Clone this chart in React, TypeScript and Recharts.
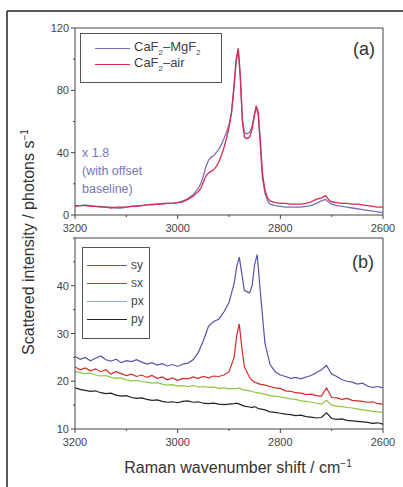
import React from 'react';
import { LineChart, Line, XAxis, YAxis, ReferenceLine, Legend } from 'recharts';

// panel (a)
const waveA = [
  3200, 3190, 3180, 3170, 3160, 3150, 3140, 3130, 3120, 3110, 3100, 3090, 3080, 3070, 3060, 3050, 3040, 3030, 3020, 3010, 3000, 2990, 2980, 2970,
  2965, 2960, 2955, 2950, 2945, 2940, 2935, 2930, 2925, 2920, 2915, 2910, 2905, 2900, 2895,
  2890, 2886, 2882, 2878, 2874, 2870, 2865, 2860, 2855, 2851, 2847, 2843, 2839, 2835, 2830, 2825, 2820,
  2810, 2800, 2790, 2780, 2770, 2760, 2750, 2740, 2730,
  2720, 2712, 2705, 2700,
  2690, 2680, 2670, 2660, 2650, 2640, 2630, 2620, 2610, 2600,
];
const caMgF2 = [
  6, 6, 6.5, 6, 5.5, 5.5, 5, 5, 4.5, 4.5, 5, 5.5, 6, 6, 6.5, 7, 7, 7.5, 7.5, 7.5, 8, 9, 10.5, 13,
  15, 17, 20, 25, 31, 35, 37, 38, 40, 42, 45, 49, 53, 58, 66,
  82, 98, 106, 88, 62, 53, 52, 53, 57, 64, 69, 64, 45, 24, 14, 9, 7,
  6, 5.5, 5, 5, 5, 5, 5.5, 6, 7.5,
  9, 10, 8, 7,
  6, 5.5, 5, 4.5, 4, 3.5, 3, 2.5, 2, 1.5,
];
const caAir = [
  5.5, 6, 6, 5.5, 5.5, 5, 5, 4.5, 5, 5, 5, 5.5, 5.5, 6, 6.5, 6.5, 7, 7, 7.5, 7.5, 8, 8.5, 10, 12,
  13.5, 15, 17, 21, 25, 27, 28, 29, 31, 34, 38, 43, 49, 56, 66,
  84, 100, 107, 90, 60, 50, 49, 50, 55, 63, 70, 66, 48, 27, 16, 11, 9,
  8, 7.5, 7.5, 7, 7, 7, 7.5, 8.5, 10,
  11, 12.5, 9.5, 8.5,
  8, 7.5, 7.5, 7, 7, 6.5, 6, 5.5, 5, 5,
];

// panel (b)
const waveB = [
  3200, 3190, 3180, 3170, 3160, 3150, 3140, 3130, 3120, 3110, 3100, 3090, 3080, 3070, 3060, 3050, 3040, 3030, 3020, 3010, 3000,
  2990, 2980, 2970, 2960, 2950, 2940, 2930, 2920, 2910, 2900,
  2890, 2885, 2880, 2875, 2870,
  2860, 2855, 2850, 2845, 2840,
  2830, 2820, 2810, 2800, 2790, 2780, 2770, 2760, 2750, 2740, 2730, 2720, 2710, 2700, 2690, 2680, 2670, 2660, 2650, 2640, 2630, 2620, 2610, 2600,
];
const sy = [
  25.2, 24.6, 25.0, 24.3, 24.8, 25.3, 24.5, 24.2, 24.6, 23.9, 24.3, 24.1, 24.5, 24.0, 23.6, 23.9, 23.4, 23.7, 23.2, 23.5, 23.1,
  23.6, 23.8, 24.5, 26.0, 28.5, 31.5, 32.5, 33.0, 34.5, 36.5,
  40.5, 44.0, 46.0, 42.5, 39.0,
  38.5, 40.0, 44.5, 46.5, 40.0,
  28.0, 23.5, 22.0, 21.3, 21.0, 20.6, 20.8, 20.5, 20.9, 21.2, 21.8, 22.4, 23.3, 21.5, 21.0, 20.3, 20.0, 19.8, 19.4, 19.6, 19.0, 18.7, 18.9, 18.6,
];
const sx = [
  23.0, 22.4, 22.8, 22.2, 22.6, 22.0, 22.4, 21.5, 22.0, 21.6, 21.2, 21.5, 21.0, 21.3, 20.8, 21.2, 20.6, 20.9, 20.3, 20.7, 20.2,
  20.6, 20.5, 20.9, 20.6, 21.0, 20.7, 21.1, 21.0, 21.3, 22.0,
  25.0, 29.5, 32.0, 27.0, 23.0,
  20.8, 20.2, 19.8, 19.6, 19.4,
  19.2, 18.9, 18.6, 18.5, 18.0, 17.9, 17.6, 17.5, 17.2, 17.3, 17.0, 16.9, 18.6, 16.6, 16.5, 16.2, 16.4, 16.0, 15.9, 15.8, 15.6, 15.7, 15.3, 15.2,
];
const px = [
  22.0, 21.8, 21.6, 21.7, 21.3, 21.1, 21.2, 20.8, 20.6, 20.7, 20.3, 20.1, 20.2, 19.9, 19.8, 19.6, 19.7, 19.4, 19.2, 19.3, 19.0,
  19.1, 18.9, 19.1, 18.8, 18.9, 18.7, 18.8, 18.5, 18.6, 18.4,
  18.5, 18.4, 18.6, 18.3, 18.2,
  18.0, 17.9, 17.7, 17.6, 17.5,
  17.3, 17.0, 16.9, 16.7, 16.5, 16.3, 16.2, 15.9, 15.8, 15.6, 15.4, 15.2, 16.0, 15.0, 14.8, 14.7, 14.5, 14.4, 14.2, 14.0, 13.9, 13.7, 13.6, 13.5,
];
const py = [
  18.6, 18.3, 18.1, 17.9, 18.0, 17.6, 17.4, 17.5, 17.1, 16.9, 17.0, 16.6, 16.4, 16.5, 16.2, 16.0, 16.1, 15.8, 15.6, 15.7, 15.5,
  15.8, 15.9, 15.6, 15.7, 15.4, 15.3, 15.4, 15.2, 15.1, 15.2,
  15.3, 15.4, 15.2, 15.0, 14.8,
  14.6, 14.5, 14.7, 14.4, 14.2,
  14.0, 13.6, 13.5, 13.3, 13.1, 13.0, 12.8, 12.9, 12.6, 12.5, 12.3, 12.4, 13.4, 12.2, 12.0, 12.1, 11.8, 11.7, 11.6, 11.5, 11.4, 11.2, 11.3, 11.0,
];

const seriesA = ['CaF2–MgF2', 'CaF2–air'];
const seriesB = ['sy', 'sx', 'px', 'py'];

const xTicks = [3200, 3100, 3000, 2900, 2800, 2700, 2600];
const xLabels = [3200, 3000, 2800, 2600];
const yTicksA = [0, 20, 40, 60, 80, 100, 120];
const yLabelsA = [0, 40, 80, 120];
const yTicksB = [10, 15, 20, 25, 30, 35, 40, 45, 50];
const yLabelsB = [10, 20, 30, 40];

const dataA = waveA.map((w, i) => ({ w, mg: caMgF2[i], air: caAir[i] }));
const dataB = waveB.map((w, i) => ({ w, sy: sy[i], sx: sx[i], px: px[i], py: py[i] }));

const FONT = '"Liberation Sans", Arial, sans-serif';
const AXIS = '#444';

const XTick = ({ x, y, payload }: any) => {
  const major = xLabels.includes(payload.value);
  return (
    <g>
      <line x1={x} x2={x} y1={y} y2={y + (major ? 4 : 2)} stroke={AXIS} />
      {major && (
        <text x={x} y={y + 17} textAnchor="middle" fontSize={11} fill="#444" fontFamily={FONT}>
          {payload.value}
        </text>
      )}
    </g>
  );
};

const makeYTick = (labels: number[]) => ({ x, y, payload }: any) => {
  const major = labels.includes(payload.value);
  return (
    <g>
      <line x1={x} x2={x - (major ? 4 : 2)} y1={y} y2={y} stroke={AXIS} />
      {major && (
        <text x={x - 6} y={y + 4} textAnchor="end" fontSize={11} fill="#444" fontFamily={FONT}>
          {payload.value}
        </text>
      )}
    </g>
  );
};

// CaF2 -> CaF<sub>2</sub>
const withSub = (s: string) =>
  s.split(/(\d)/).map((part, i) =>
    /\d/.test(part) ? <sub key={i} style={{ fontSize: '0.6em' }}>{part}</sub> : <span key={i}>{part}</span>
  );

const BoxLegend = ({ payload, order, pad, lineW, rowH, fontSize }: any) => {
  const items = [...(payload || [])].sort((a: any, b: any) => order.indexOf(a.value) - order.indexOf(b.value));
  return (
    <div
      style={{
        border: '1px solid #555',
        background: '#fff',
        padding: pad,
        fontFamily: FONT,
        fontSize,
        color: '#444',
        lineHeight: 1,
      }}
    >
      {items.map((p: any) => (
        <div key={p.value} style={{ display: 'flex', alignItems: 'center', height: rowH, whiteSpace: 'nowrap' }}>
          <span style={{ display: 'inline-block', width: lineW, borderTop: `1.5px solid ${p.color}`, marginRight: 4 }} />
          <span>{withSub(p.value)}</span>
        </div>
      ))}
    </div>
  );
};

export default function App() {
  return (
    <div style={{ position: 'absolute', left: 0, top: 0, width: 403, height: 487, background: '#fff', fontFamily: FONT }}>
      <div style={{ position: 'absolute', left: 0, top: 0 }}>
        <LineChart width={403} height={240} data={dataA} margin={{ top: 28, right: 20, left: 15, bottom: 0 }}>
          <XAxis
            dataKey="w"
            type="number"
            domain={[2600, 3200]}
            reversed
            ticks={xTicks}
            interval={0}
            height={25}
            tickSize={0}
            tickMargin={0}
            tickLine={false}
            stroke={AXIS}
            tick={XTick}
            allowDataOverflow
          />
          <YAxis
            type="number"
            domain={[0, 120]}
            ticks={yTicksA}
            interval={0}
            width={60}
            tickSize={0}
            tickMargin={0}
            tickLine={false}
            stroke={AXIS}
            tick={makeYTick(yLabelsA)}
            allowDataOverflow
          />
          <ReferenceLine y={120} stroke={AXIS} />
          <ReferenceLine x={2600} stroke={AXIS} />
          <Line dataKey="mg" name={seriesA[0]} stroke="#7474b4" strokeWidth={1.3} dot={false} isAnimationActive={false} />
          <Line dataKey="air" name={seriesA[1]} stroke="#d82a52" strokeWidth={1.3} dot={false} isAnimationActive={false} />
          <Legend
            layout="vertical"
            align="center"
            verticalAlign="middle"
            wrapperStyle={{ left: 80, top: 33, width: 142, height: 'auto' }}
            content={(props: any) => (
              <BoxLegend {...props} order={seriesA} pad="6px 8px 10px 14px" lineW={35} rowH={16} fontSize={13} />
            )}
          />
        </LineChart>
      </div>

      <div style={{ position: 'absolute', left: 0, top: 230 }}>
        <LineChart width={403} height={230} data={dataB} margin={{ top: 8, right: 20, left: 15, bottom: 0 }}>
          <XAxis
            dataKey="w"
            type="number"
            domain={[2600, 3200]}
            reversed
            ticks={xTicks}
            interval={0}
            height={31}
            tickSize={0}
            tickMargin={0}
            tickLine={false}
            stroke={AXIS}
            tick={XTick}
            allowDataOverflow
          />
          <YAxis
            type="number"
            domain={[10, 50]}
            ticks={yTicksB}
            interval={0}
            width={60}
            tickSize={0}
            tickMargin={0}
            tickLine={false}
            stroke={AXIS}
            tick={makeYTick(yLabelsB)}
            allowDataOverflow
          />
          <ReferenceLine y={50} stroke={AXIS} />
          <ReferenceLine x={2600} stroke={AXIS} />
          <Line dataKey="sy" name={seriesB[0]} stroke="#5454aa" strokeWidth={1.2} dot={false} isAnimationActive={false} />
          <Line dataKey="sx" name={seriesB[1]} stroke="#d42a2a" strokeWidth={1.2} dot={false} isAnimationActive={false} />
          <Line dataKey="px" name={seriesB[2]} stroke="#8cc63f" strokeWidth={1.2} dot={false} isAnimationActive={false} />
          <Line dataKey="py" name={seriesB[3]} stroke="#222222" strokeWidth={1.2} dot={false} isAnimationActive={false} />
          <Legend
            layout="vertical"
            align="center"
            verticalAlign="middle"
            wrapperStyle={{ left: 82, top: 17, width: 68, height: 'auto' }}
            content={(props: any) => (
              <BoxLegend {...props} order={seriesB} pad="8px 4px 10px 4px" lineW={40} rowH={18} fontSize={12} />
            )}
          />
        </LineChart>
      </div>

      <svg
        width={403}
        height={487}
        style={{ position: 'absolute', left: 0, top: 0, pointerEvents: 'none' }}
        fontFamily={FONT}
      >
        <line x1={7} y1={11} x2={403} y2={11} stroke="#222" strokeWidth={1.5} />
        <line x1={7} y1={11} x2={7} y2={487} stroke="#222" strokeWidth={1.5} />

        <text x={364} y={55} textAnchor="middle" fontSize={18} fill="#333">(a)</text>
        <text x={363} y={268} textAnchor="middle" fontSize={18} fill="#333">(b)</text>

        <g fontSize={12.5} fill="#7676bd">
          <text x={82} y={157}>x 1.8</text>
          <text x={82} y={175}>(with offset</text>
          <text x={82} y={193}>baseline)</text>
        </g>

        <text transform="rotate(-90)" x={-242} y={34} textAnchor="middle" fontSize={16} fill="#333">
          Scattered intensity / photons s
          <tspan dy={-6} fontSize={10}>−1</tspan>
        </text>
        <text x={238} y={473} textAnchor="middle" fontSize={16} fill="#333">
          Raman wavenumber shift / cm
          <tspan dy={-6} fontSize={10}>−1</tspan>
        </text>
      </svg>
    </div>
  );
}
